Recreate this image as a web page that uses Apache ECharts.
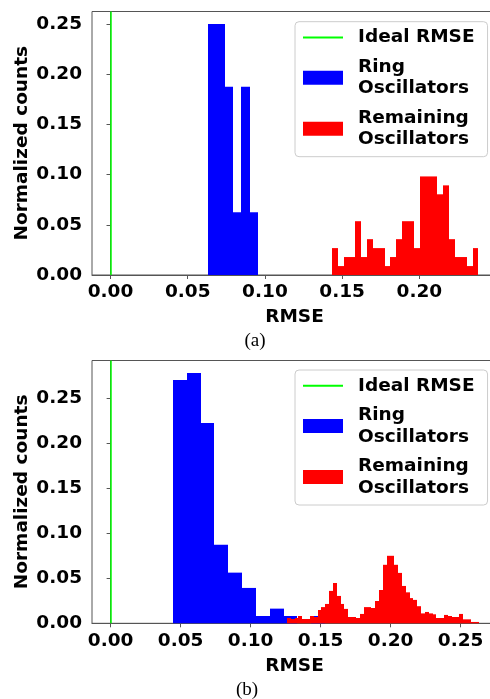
<!DOCTYPE html>
<html>
<head>
<meta charset="utf-8">
<script src="https://cdn.jsdelivr.net/npm/echarts@6/dist/echarts.min.js"></script>
<style>html,body{margin:0;padding:0;background:#fff}#c{width:490px;height:699px}</style>
</head>
<body>
<div id="c"></div>
<script>
// ---------- data ----------
var seriesNames = ['Ideal RMSE', 'Ring\nOscillators', 'Remaining\nOscillators'];
var idealRMSE = [0];

// (a)
var aRingBinStart = 0.0632, aRingBinWidth = 0.0054;
var aRingValues = [0.25, 0.25, 0.1875, 0.0625, 0.1875, 0.0625];
var aRemBinStart = 0.1433, aRemBinWidth = 0.0038;
var aRemValues = [0.0268, 0.0089, 0.0179, 0.0179, 0.0536, 0.0179, 0.0357, 0.0268, 0.0268, 0.0089,
                  0.0179, 0.0357, 0.0536, 0.0536, 0.0268, 0.0982, 0.0982, 0.0982, 0.0804, 0.0893,
                  0.0357, 0.0179, 0.0179, 0.0089, 0.0268];
var aXTicks = [0, 0.05, 0.10, 0.15, 0.20];
var aYTicks = [0, 0.05, 0.10, 0.15, 0.20, 0.25];

// (b)
var bRingBinStart = 0.0445, bRingBinWidth = 0.00988;
var bRingValues = [0.2704, 0.2781, 0.2226, 0.0874, 0.0563, 0.0393, 0.0081, 0.0163, 0.0081, 0, 0.0081];
var bRemBinStart = 0.1259, bRemBinWidth = 0.00274;
var bRemValues = [0.0059, 0.0048, 0.0059, 0.0081, 0.0048, 0.0048, 0.0081, 0.0070, 0.0148, 0.0180,
                  0.0215, 0.0360, 0.0448, 0.0304, 0.0215, 0.0160, 0.0070, 0.0070, 0.0059, 0.0104,
                  0.0180, 0.0180, 0.0170, 0.0248, 0.0370, 0.0650, 0.0750, 0.0750, 0.0650, 0.0560,
                  0.0415, 0.0344, 0.0280, 0.0260, 0.0190, 0.0110, 0.0126, 0.0110, 0.0100, 0.0059,
                  0.0059, 0.0093, 0.0081, 0.0070, 0.0070, 0.0104, 0.0044, 0.0044, 0.0015, 0.0015];
var bXTicks = [0, 0.05, 0.10, 0.15, 0.20, 0.25];
var bYTicks = [0, 0.05, 0.10, 0.15, 0.20, 0.25];

var captions = ['(a)', '(b)'];

// ---------- helpers ----------
var FONT = '"DejaVu Sans", sans-serif';
var FS = 18.5;
var AXC = '#555';

function bins(start, width, values) {
  return values.map(function (v, i) { return [start + i * width, start + (i + 1) * width, v]; });
}
function histSeries(name, idx, color, data) {
  return {
    type: 'custom', name: name, xAxisIndex: idx, yAxisIndex: idx,
    itemStyle: { color: color },
    encode: { x: [0, 1], y: 2 },
    data: data,
    renderItem: function (params, api) {
      var a = api.coord([api.value(0), api.value(2)]);
      var b = api.coord([api.value(1), 0]);
      var x0 = Math.round(a[0]), x1 = Math.round(b[0]);
      return { type: 'rect', shape: { x: x0, y: a[1], width: x1 - x0, height: b[1] - a[1] },
               style: { fill: color } };
    }
  };
}
function idealSeries(idx) {
  return {
    type: 'line', name: seriesNames[0], xAxisIndex: idx, yAxisIndex: idx, data: [],
    symbol: 'none', color: '#00ff00', lineStyle: { color: '#00ff00', width: 1.5 },
    markLine: { silent: true, symbol: ['none', 'none'], label: { show: false },
      lineStyle: { color: '#00ff00', width: 1.5, type: 'solid' },
      data: idealRMSE.map(function (v) { return { xAxis: v }; }) }
  };
}
function xAxis(idx, min, max, ticks) {
  return {
    type: 'value', gridIndex: idx, min: min, max: max,
    name: 'RMSE', nameLocation: 'middle', nameGap: 33, nameMoveOverlap: false,
    nameTextStyle: { fontFamily: FONT, fontWeight: 'bold', fontSize: FS, color: '#000' },
    axisLine: { show: true, onZero: false, lineStyle: { color: AXC, width: 1 } },
    axisTick: { show: true, length: 4, customValues: ticks, lineStyle: { color: AXC } },
    axisLabel: { customValues: ticks, margin: 8, fontFamily: FONT, fontWeight: 'bold', fontSize: FS, color: '#000',
      formatter: function (v) { return v.toFixed(2); } },
    splitLine: { show: false }
  };
}
function yAxis(idx, max, ticks) {
  return {
    type: 'value', gridIndex: idx, min: 0, max: max,
    name: 'Normalized counts', nameLocation: 'middle', nameGap: 60, nameRotate: 90, nameMoveOverlap: false,
    nameTextStyle: { fontFamily: FONT, fontWeight: 'bold', fontSize: FS, color: '#000' },
    axisLine: { show: true, lineStyle: { color: AXC, width: 1 } },
    axisTick: { show: true, length: 4, customValues: ticks, lineStyle: { color: AXC } },
    axisLabel: { customValues: ticks, margin: 10, fontFamily: FONT, fontWeight: 'bold', fontSize: FS, color: '#000',
      formatter: function (v) { return v.toFixed(2); } },
    splitLine: { show: false }
  };
}
function legend(top) {
  return {
    orient: 'vertical', left: 295, top: top,
    itemWidth: 40, itemHeight: 14, itemGap: 8,
    padding: [5, 13, 6.5, 7],
    backgroundColor: '#fff', borderColor: '#cccccc', borderWidth: 1, borderRadius: 4,
    textStyle: { fontFamily: FONT, fontWeight: 'bold', fontSize: FS, color: '#000', lineHeight: 21.5,
                 padding: [0, 0, 0, 10] },
    selectedMode: false,
    data: [ { name: seriesNames[0], itemStyle: { opacity: 0 } },
            { name: seriesNames[1], icon: 'rect' },
            { name: seriesNames[2], icon: 'rect' } ]
  };
}

var chart = echarts.init(document.getElementById('c'), null, { renderer: 'canvas' });
chart.setOption({
  animation: false,
  backgroundColor: '#fff',
  grid: [
    { left: 92, top: 11.5, width: 405, height: 263.5, show: true, borderColor: AXC, borderWidth: 1,
      containLabel: false, outerBoundsMode: 'none' },
    { left: 92, top: 360.5, width: 405, height: 262.8, show: true, borderColor: AXC, borderWidth: 1,
      containLabel: false, outerBoundsMode: 'none' }
  ],
  xAxis: [ xAxis(0, -0.012, 0.2503, aXTicks), xAxis(1, -0.0133, 0.2760, bXTicks) ],
  yAxis: [ yAxis(0, 0.2625, aYTicks), yAxis(1, 0.292, bYTicks) ],
  legend: [ legend(21.7), legend(370) ],
  series: [
    idealSeries(0),
    histSeries(seriesNames[1], 0, '#0000ff', bins(aRingBinStart, aRingBinWidth, aRingValues)),
    histSeries(seriesNames[2], 0, '#ff0000', bins(aRemBinStart, aRemBinWidth, aRemValues)),
    idealSeries(1),
    histSeries(seriesNames[1], 1, '#0000ff', bins(bRingBinStart, bRingBinWidth, bRingValues)),
    histSeries(seriesNames[2], 1, '#ff0000', bins(bRemBinStart, bRemBinWidth, bRemValues))
  ],
  graphic: [
    { type: 'text', style: { text: captions[0], x: 255, y: 341, align: 'center', verticalAlign: 'middle',
      fontFamily: '"Liberation Serif", serif', fontSize: 19, fill: '#000' } },
    { type: 'text', style: { text: captions[1], x: 247, y: 690, align: 'center', verticalAlign: 'middle',
      fontFamily: '"Liberation Serif", serif', fontSize: 19, fill: '#000' } }
  ]
});
</script>
</body>
</html>
